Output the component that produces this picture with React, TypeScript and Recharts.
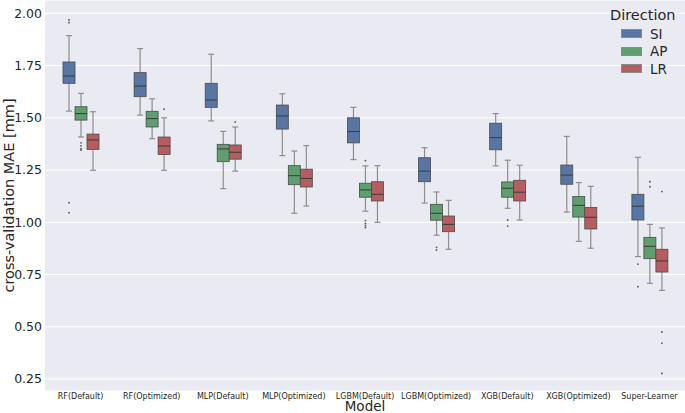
import React from "react";
import { ComposedChart, Bar, XAxis, YAxis, CartesianGrid, Label } from "recharts";

const W = 685;
const H = 413;

const models = [
  "RF(Default)",
  "RF(Optimized)",
  "MLP(Default)",
  "MLP(Optimized)",
  "LGBM(Default)",
  "LGBM(Optimized)",
  "XGB(Default)",
  "XGB(Optimized)",
  "Super-Learner",
];

// [lower whisker, q1, median, q3, upper whisker]
const siStats = [
  [1.532, 1.665, 1.7, 1.767, 1.893],
  [1.513, 1.601, 1.652, 1.716, 1.831],
  [1.485, 1.55, 1.585, 1.665, 1.804],
  [1.319, 1.446, 1.509, 1.561, 1.615],
  [1.3, 1.38, 1.434, 1.5, 1.55],
  [1.092, 1.194, 1.245, 1.309, 1.357],
  [1.27, 1.347, 1.405, 1.474, 1.52],
  [1.049, 1.182, 1.226, 1.274, 1.411],
  [0.836, 1.011, 1.077, 1.134, 1.311],
];
const apStats = [
  [1.408, 1.489, 1.52, 1.553, 1.617],
  [1.4, 1.456, 1.496, 1.531, 1.591],
  [1.161, 1.29, 1.351, 1.373, 1.435],
  [1.043, 1.18, 1.223, 1.271, 1.341],
  [1.053, 1.12, 1.155, 1.187, 1.27],
  [0.938, 1.01, 1.043, 1.086, 1.145],
  [1.067, 1.12, 1.163, 1.193, 1.297],
  [0.909, 1.025, 1.081, 1.123, 1.19],
  [0.708, 0.826, 0.885, 0.928, 0.99],
];
const lrStats = [
  [1.249, 1.349, 1.394, 1.422, 1.529],
  [1.249, 1.324, 1.365, 1.408, 1.5],
  [1.245, 1.302, 1.335, 1.37, 1.456],
  [1.078, 1.169, 1.21, 1.254, 1.367],
  [1.0, 1.102, 1.134, 1.194, 1.271],
  [0.871, 0.955, 0.99, 1.03, 1.105],
  [1.011, 1.102, 1.144, 1.201, 1.273],
  [0.876, 0.968, 1.024, 1.071, 1.172],
  [0.674, 0.762, 0.815, 0.871, 0.973],
];

const siOutliers = [[1.968, 1.955, 1.094, 1.046], [], [], [], [], [], [], [], [0.8, 0.692]];
const apOutliers = [
  [1.38, 1.366, 1.352, 1.345],
  [],
  [],
  [],
  [1.295, 1.008, 0.995, 0.985, 0.975],
  [0.88, 0.868],
  [1.011, 0.982],
  [],
  [1.194, 1.17],
];
const lrOutliers = [[], [1.541], [1.48], [], [], [], [], [], [1.147, 0.475, 0.422, 0.277]];

const yTicks = [0.25, 0.5, 0.75, 1.0, 1.25, 1.5, 1.75, 2.0];

const series = [
  { key: "SI", color: "#5875a4", stats: siStats, outliers: siOutliers },
  { key: "AP", color: "#5f9e6e", stats: apStats, outliers: apOutliers },
  { key: "LR", color: "#b55d60", stats: lrStats, outliers: lrOutliers },
];

const data = models.map((model, i) => {
  const row: any = { model };
  series.forEach((s) => {
    const st = s.stats[i];
    row[s.key] = [st[0], st[4]];
    row[s.key + "Stats"] = st;
    row[s.key + "Out"] = s.outliers[i];
  });
  return row;
});

const edge = "#4a4a4a";
const whisker = "#8e8e8e";

const renderBox = (props: any, key: string, color: string) => {
  const { x, y, width, height, payload } = props;
  const st = payload[key + "Stats"];
  const out: number[] = payload[key + "Out"] || [];
  const [lo, q1, med, q3, hi] = st;
  const yTop = Math.min(y, y + height);
  const yBot = Math.max(y, y + height);
  const k = (yBot - yTop) / (hi - lo);
  const py = (v: number) => yBot - (v - lo) * k;
  const cx = x + width / 2;
  const cap = width / 4;
  return (
    <g>
      <line x1={cx} x2={cx} y1={py(hi)} y2={py(q3)} stroke={whisker} strokeWidth={1.2} />
      <line x1={cx} x2={cx} y1={py(q1)} y2={py(lo)} stroke={whisker} strokeWidth={1.2} />
      <line x1={cx - cap} x2={cx + cap} y1={py(hi)} y2={py(hi)} stroke={whisker} strokeWidth={1.2} />
      <line x1={cx - cap} x2={cx + cap} y1={py(lo)} y2={py(lo)} stroke={whisker} strokeWidth={1.2} />
      <rect
        x={x}
        y={py(q3)}
        width={width}
        height={py(q1) - py(q3)}
        fill={color}
        stroke={edge}
        strokeWidth={0.8}
      />
      <line x1={x} x2={x + width} y1={py(med)} y2={py(med)} stroke="#3a3a3a" strokeWidth={1} />
      {out.map((v, j) => (
        <circle key={j} cx={cx} cy={py(v)} r={0.9} fill="#555" />
      ))}
    </g>
  );
};

const YTitle = () => {
  const cy = 195.5;
  return (
    <text
      x={9}
      y={cy}
      transform={`rotate(-90, 9, ${cy})`}
      textAnchor="middle"
      dominantBaseline="central"
      fontSize={14.5}
      fill="#262626"
    >
      cross-validation MAE [mm]
    </text>
  );
};

const XTitle = (props: any) => {
  const vb = props.viewBox || { x: 45, width: 640 };
  return (
    <text
      x={vb.x + vb.width / 2}
      y={406}
      textAnchor="middle"
      dominantBaseline="central"
      fontSize={13.5}
      fill="#262626"
    >
      Model
    </text>
  );
};

export default function App() {
  return (
    <div style={{ position: "relative", width: W, height: H, fontFamily: '"DejaVu Sans", sans-serif' }}>
      <style>{"body{margin:0}"}</style>
      <ComposedChart
        width={W}
        height={H}
        data={data}
        margin={{ top: 0, right: 0, bottom: 0, left: 0 }}
        barGap={0}
        barSize={12}
      >
        <CartesianGrid vertical={false} stroke="#ffffff" strokeWidth={1} fill="#eaeaf2" />
        <XAxis
          dataKey="model"
          interval={0}
          tickLine={false}
          axisLine={false}
          tickSize={0}
          tickMargin={2}
          height={22}
          tick={{ fontSize: 8, fill: "#262626" }}
        >
          <Label content={XTitle} />
        </XAxis>
        <YAxis
          type="number"
          domain={[0.1928, 2.0636]}
          ticks={yTicks}
          allowDataOverflow
          tickFormatter={(v: number) => v.toFixed(2)}
          tickLine={false}
          axisLine={false}
          tickSize={0}
          tickMargin={3}
          width={45}
          tick={{ fontSize: 12.5, fill: "#262626" }}
        >
          <Label content={YTitle} />
        </YAxis>
        {series.map((s) => (
          <Bar
            key={s.key}
            dataKey={s.key}
            fill={s.color}
            isAnimationActive={false}
            shape={(p: any) => renderBox(p, s.key, s.color)}
          />
        ))}
      </ComposedChart>
      <div style={{ position: "absolute", left: 610, top: 5, color: "#262626" }}>
        <div style={{ fontSize: 14.5, lineHeight: "20px" }}>Direction</div>
        {series.map((s) => (
          <div key={s.key} style={{ display: "flex", alignItems: "center", height: 17.5, marginLeft: 11 }}>
            <span
              style={{
                display: "inline-block",
                width: 19,
                height: 7,
                background: s.color,
                border: "0.5px solid #8a8a8a",
                marginRight: 8,
              }}
            />
            <span style={{ fontSize: 13.5 }}>{s.key}</span>
          </div>
        ))}
      </div>
    </div>
  );
}
